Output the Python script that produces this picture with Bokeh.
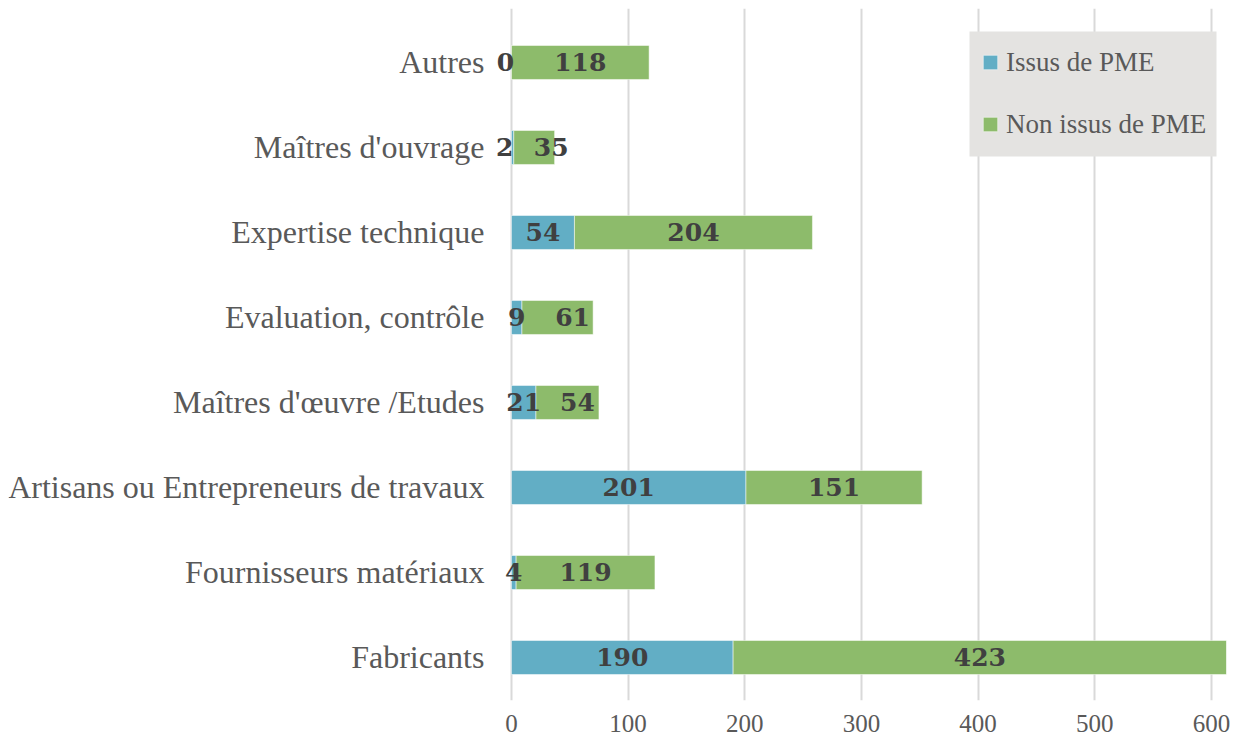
import numpy as np
from bokeh.plotting import figure
from bokeh.models import ColumnDataSource, Range1d, FixedTicker, Legend, LegendItem, BoxAnnotation
from bokeh.core.properties import value
from bokeh.embed import file_html
from bokeh.resources import INLINE

# Categories listed from bottom to top
categories = ["Fabricants", "Fournisseurs matériaux", "Artisans ou Entrepreneurs de travaux",
              "Maîtres d'œuvre /Etudes", "Evaluation, contrôle", "Expertise technique",
              "Maîtres d'ouvrage", "Autres"]
issus_pme = [190, 4, 201, 21, 9, 54, 2, 0]
non_issus_pme = [423, 119, 151, 54, 61, 204, 35, 118]
x_ticks = [0, 100, 200, 300, 400, 500, 600]

# small pixel nudges of the value labels that would otherwise collide (style only)
pme_label_nudge = [0, 0, 0, 0, 0, 0, -8, -6]
non_label_nudge = [0, 0, 0, 10, 15, 0, 17, 0]

BLUE = "#62aec5"
GREEN = "#8dbb6b"
FONT = "Liberation Serif"
BOLD_FONT = "DejaVu Serif"

ypos = np.arange(len(categories))
pme = np.array(issus_pme, dtype=float)
non = np.array(non_issus_pme, dtype=float)

src = ColumnDataSource(dict(
    y=ypos, cat=categories, pme=pme, non=non, total=pme + non,
    pme_mid=pme / 2, non_mid=pme + non / 2,
    pme_lab=[str(v) for v in issus_pme], non_lab=[str(v) for v in non_issus_pme],
    pme_dx=pme_label_nudge, non_dx=non_label_nudge,
))

p = figure(width=1234, height=742, output_backend="svg", toolbar_location=None,
           x_range=Range1d(-431.1, 612.9), y_range=Range1d(-0.506, 7.635),
           y_axis_location=None, min_border_left=8, min_border_right=8,
           min_border_top=8, min_border_bottom=42)
p.outline_line_color = None
p.background_fill_color = "white"

p.ygrid.visible = False
p.xgrid.ticker = FixedTicker(ticks=x_ticks)
p.xgrid.grid_line_color = "#d9d9d9"
p.xgrid.grid_line_width = 2

ax = p.xaxis[0]
ax.ticker = FixedTicker(ticks=x_ticks)
ax.axis_line_color = None
ax.major_tick_line_color = None
ax.minor_tick_line_color = None
ax.major_label_text_font = FONT
ax.major_label_text_font_size = "25px"
ax.major_label_text_color = "#595959"
ax.major_label_standoff = 8

r1 = p.hbar(y="y", left=0, right="pme", height=0.4, source=src, fill_color=BLUE,
            line_color="white", line_alpha=0.5, line_width=1)
r2 = p.hbar(y="y", left="pme", right="total", height=0.4, source=src, fill_color=GREEN,
            line_color="white", line_alpha=0.5, line_width=1)

# category labels
p.text(x=0, y="y", text="cat", source=src, x_offset=-27, text_align="right", text_baseline="middle",
       text_font=value(FONT), text_font_size="32px", text_color="#595959")

# value labels
p.text(x="pme_mid", y="y", text="pme_lab", source=src, x_offset="pme_dx",
       text_align="center", text_baseline="middle",
       text_font=value(BOLD_FONT), text_font_size="25px", text_font_style="bold", text_color="#404040")
p.text(x="non_mid", y="y", text="non_lab", source=src, x_offset="non_dx",
       text_align="center", text_baseline="middle",
       text_font=value(BOLD_FONT), text_font_size="25px", text_font_style="bold", text_color="#404040")

# legend background panel
panel = BoxAnnotation(left=969, right=1216, top=31, bottom=156,
                      left_units="canvas", right_units="canvas",
                      top_units="canvas", bottom_units="canvas",
                      fill_color="#e4e3e1", fill_alpha=1, line_color=None, level="annotation")
p.add_layout(panel)

legend = Legend(items=[LegendItem(label="Issus de PME", renderers=[r1]),
                       LegendItem(label="Non issus de PME", renderers=[r2])],
                location=(973, 545))
legend.background_fill_alpha = 0
legend.border_line_color = None
legend.label_text_font = FONT
legend.label_text_font_size = "27px"
legend.label_text_color = "#595959"
legend.glyph_width = 18
legend.glyph_height = 18
legend.label_height = 62
legend.label_standoff = 7
legend.spacing = 0
legend.padding = 17
legend.margin = 0
p.add_layout(legend, "center")

open("out.html", "w").write(file_html(p, INLINE))
